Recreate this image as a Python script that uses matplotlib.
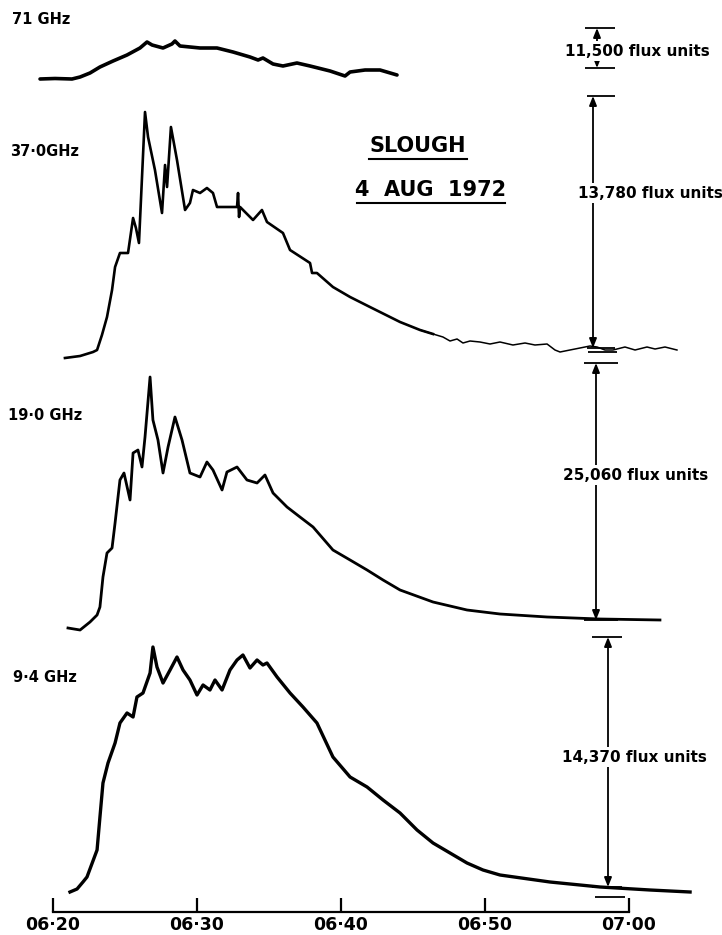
import matplotlib.pyplot as plt
from matplotlib.lines import Line2D
import numpy as np

# ---- data: minutes after 06:20 UT and pen deflection above the zero level ----
t71 = [-0.90, 0.14, 1.32, 1.88, 2.57, 3.26, 4.17, 5.14, 6.04, 6.53, 6.88, 7.64,
       8.26, 8.47, 8.82, 10.21, 11.39, 12.5, 13.68, 14.24, 14.58, 15.28, 15.97,
       16.94, 17.85, 19.24, 20.28, 20.63, 21.67, 22.71, 23.89]
d71 = [0, 0.5, 0, 2, 6, 12, 18, 24, 31, 37, 34, 31,
       35, 38, 33, 31, 31, 27, 22, 19, 21, 15, 13,
       16, 13, 8, 3, 7, 9, 9, 4]

t37 = [0.83, 1.88, 2.78, 3.06, 3.40, 3.75, 4.10, 4.31, 4.65, 5.21, 5.56, 5.76,
       5.97, 6.39, 6.60, 7.08, 7.57, 7.78, 7.92, 8.19, 8.61, 9.17, 9.51, 9.72,
       10.21, 10.69, 11.11, 11.39, 12.78, 12.85, 12.92, 12.99, 13.89, 14.51, 14.86,
       15.97, 16.46, 17.85, 17.99, 18.33, 19.44, 20.63, 22.01, 24.10, 25.49,
       26.39, 27.08, 27.57, 28.06, 28.47, 28.96, 29.65, 30.35, 31.04, 31.94,
       32.78, 33.47, 34.31, 34.86, 35.21, 35.90, 36.60, 37.29, 37.78, 38.33,
       38.89, 39.72, 40.42, 41.25, 41.81, 42.50, 43.33]
d37 = [-10, -8, -4, -2, 13, 31, 58, 81, 95, 95, 130, 120,
       105, 236, 211, 178, 135, 183, 161, 221, 188, 138, 145, 158,
       155, 160, 155, 141, 141, 155, 131, 141, 128, 138, 126,
       115, 98, 85, 75, 75, 61, 51, 41, 26, 18,
       14, 11, 7, 9, 5, 7, 6, 4, 6, 3,
       5, 3, 4, -2, -4, -2, 0, 2, 1, -2,
       -2, 1, -2, 1, -1, 1, -2]

t19 = [1.04, 1.88, 2.57, 3.06, 3.26, 3.47, 3.75, 4.10, 4.31, 4.65, 4.93, 5.35,
       5.56, 5.90, 6.18, 6.39, 6.74, 6.94, 7.29, 7.64, 7.99, 8.47, 8.96, 9.51,
       10.21, 10.69, 11.11, 11.74, 12.08, 12.78, 13.47, 14.17, 14.72, 15.28,
       16.25, 17.15, 18.06, 19.44, 20.63, 21.81, 22.92, 24.10, 26.39, 28.75,
       31.04, 34.31, 37.99, 42.15]
d19 = [-8, -10, -2, 5, 13, 43, 67, 72, 97, 140, 147, 120,
       167, 170, 153, 183, 243, 200, 180, 147, 173, 203, 180, 147,
       143, 158, 150, 130, 148, 153, 140, 137, 145, 127,
       113, 103, 93, 70, 60, 50, 40, 30, 18, 10,
       6, 3, 1, 0]

t94 = [1.18, 1.67, 2.08, 2.36, 3.06, 3.26, 3.47, 3.82, 4.31, 4.65, 5.14, 5.56,
       5.83, 6.25, 6.74, 6.94, 7.22, 7.64, 8.13, 8.61, 9.03, 9.51, 10.0, 10.42,
       10.90, 11.25, 11.74, 12.29, 12.78, 13.19, 13.68, 14.17, 14.58, 14.86,
       15.56, 16.46, 17.36, 18.33, 19.44, 20.63, 21.81, 22.92, 24.10, 25.28,
       26.39, 27.57, 28.75, 29.86, 31.04, 34.51, 37.99, 41.46, 44.24]
d94 = [-5, -2, 5, 10, 37, 70, 104, 124, 144, 164, 174, 170,
       190, 194, 214, 240, 220, 204, 217, 230, 217, 207, 192, 202,
       197, 207, 197, 217, 227, 232, 219, 227, 222, 224,
       210, 194, 180, 164, 130, 110, 100, 87, 74, 57,
       44, 34, 24, 17, 12, 5, 0, -3, -5]

tick_minutes = [0, 10, 20, 30, 40]
tick_labels = ['06·20', '06·30', '06·40', '06·50', '07·00']

# ---- layout in pixels ----
W, H = 722, 935
X0_PX, PX_PER_MIN = 53, 14.4

fig = plt.figure(figsize=(W / 100, H / 100), dpi=100)
BOLD = dict(fontweight='bold', family='DejaVu Sans', color='black')


def add_panel(zero_px, top_px, bot_px):
    ax = fig.add_axes([0, 1 - bot_px / H, 1, (bot_px - top_px) / H])
    ax.set_xlim(-X0_PX / PX_PER_MIN, (W - X0_PX) / PX_PER_MIN)
    ax.set_ylim(zero_px - bot_px, zero_px - top_px)
    ax.patch.set_visible(False)
    for s in ax.spines.values():
        s.set_visible(False)
    ax.set_xticks([])
    ax.set_yticks([])
    return ax


def m(xpx):
    return (xpx - X0_PX) / PX_PER_MIN


def scale_bar(ax, x, lo, hi, bar_l, bar_r, label, tx, ty):
    ax.annotate('', xy=(m(x), hi), xytext=(m(x), lo), annotation_clip=False,
                arrowprops=dict(arrowstyle='<|-|>,head_length=0.55,head_width=0.22',
                                lw=1.3, color='black', shrinkA=0, shrinkB=0))
    ax.hlines([lo, hi], m(bar_l), m(bar_r), lw=1.3, color='black', clip_on=False)
    ax.text(m(tx), ty, label, ha='left', va='center', fontsize=11, zorder=6,
            bbox=dict(fc='white', ec='none', pad=1.5), **BOLD)


ax71 = add_panel(79, 0, 90)
ax37 = add_panel(348, 90, 360)
ax19 = add_panel(620, 360, 630)
ax94 = add_panel(887, 630, 935)

ax71.plot(t71, d71, color='black', lw=2.6, clip_on=False, solid_capstyle='round')

t37a, d37a = np.array(t37), np.array(d37)
ax37.plot(t37a[t37a <= 26.5], d37a[t37a <= 26.5], color='black', lw=1.9, clip_on=False)
ax37.plot(t37a[t37a >= 25.4], d37a[t37a >= 25.4], color='black', lw=1.1, clip_on=False)

ax19.plot(t19, d19, color='black', lw=2.0, clip_on=False)
ax94.plot(t94, d94, color='black', lw=2.4, clip_on=False)

# time axis along the bottom
ax94.spines['bottom'].set_visible(True)
ax94.spines['bottom'].set_position(('data', 887 - 912))
ax94.spines['bottom'].set_bounds(0, 40)
ax94.spines['bottom'].set_linewidth(1.6)
ax94.set_xticks(tick_minutes)
ax94.set_xticklabels(tick_labels, fontsize=12.5, fontweight='bold')
ax94.tick_params(axis='x', direction='in', length=10, width=1.6, pad=3)

# frequency labels
for ax, label, xpx, y in [(ax71, '71 GHz', 12, 60), (ax37, '37·0GHz', 10, 196),
                          (ax19, '19·0 GHz', 8, 204), (ax94, '9·4 GHz', 13, 210)]:
    ax.text(m(xpx), y, label, ha='left', va='center', fontsize=10.5, **BOLD)

# calibration arrows
scale_bar(ax71, 597, 11, 51, 585, 615, '11,500 flux units', 565, 28)
scale_bar(ax37, 593, 0, 252, 587, 615, '13,780 flux units', 578, 155)
scale_bar(ax19, 596, 0, 257, 584, 618, '25,060 flux units', 563, 145)
scale_bar(ax94, 608, 0, 250, 592, 622, '14,370 flux units', 562, 130)
ax94.hlines(-10, m(595), m(625), lw=1.3, color='black', clip_on=False)
ax19.hlines(620 - 352, m(588), m(617), lw=1.3, color='black', clip_on=False)

# title
fig.text(418 / W, 1 - 146 / H, 'SLOUGH', ha='center', va='center', fontsize=15, **BOLD)
fig.text(431 / W, 1 - 190 / H, '4  AUG  1972', ha='center', va='center', fontsize=15, **BOLD)
for x0, x1, y in [(369, 467, 159), (357, 505, 203)]:
    fig.add_artist(Line2D([x0 / W, x1 / W], [1 - y / H, 1 - y / H],
                          transform=fig.transFigure, color='black', lw=1.5))

fig.savefig('out.png', dpi=100, facecolor='white')
